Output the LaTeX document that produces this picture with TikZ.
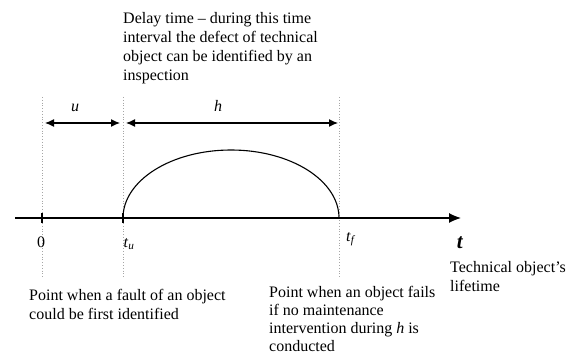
\documentclass[tikz,border=0pt]{standalone}
\usepackage{fontspec}
\setmainfont{Liberation Serif}
\usetikzlibrary{arrows.meta,positioning,calc}

\begin{document}
\begin{tikzpicture}[
  x=1pt, y=1pt,
  font=\fontsize{16}{19}\selectfont,
  guide/.style={draw=gray!70, dotted, line width=0.8pt},
  dimarr/.style={{Latex[length=9pt,width=8pt]}-{Latex[length=9pt,width=8pt]}, line width=1.2pt},
  axisarr/.style={-{Latex[length=12pt,width=10pt]}, line width=1.2pt},
  tickmark/.style={line width=2.2pt},
  note/.style={align=left, inner sep=0pt, anchor=north west}
]
\useasboundingbox (0,0) rectangle (580,356);
% points on the time axis
\coordinate (zero) at (42,138);
\coordinate (tu) at (123,138);
\coordinate (tf) at (339,138);
\coordinate (axL) at (15,138);
\coordinate (axR) at (461,138);
% dotted guides
\draw[guide] ([yshift=121pt]zero) -- ([yshift=-59pt]zero);
\draw[guide] ([yshift=121pt]tu) -- ([yshift=-59pt]tu);
\draw[guide] ([yshift=121pt]tf) -- ([yshift=-59pt]tf);
% axis
\draw[axisarr] (axL) -- (axR);
\draw[tickmark] ([yshift=-5pt]zero) -- ([yshift=5pt]zero);
\draw[tickmark] ([yshift=-5pt]tu) -- ([yshift=5pt]tu);
% intervals u and h
\draw[dimarr] ([shift={(3pt,95pt)}]zero) -- ([shift={(-3pt,95pt)}]tu);
\draw[dimarr] ([shift={(3pt,95pt)}]tu) -- ([shift={(-1pt,95pt)}]tf);
\node (u) at (75,248) {\textit{u}};
\node (h) at (218,250) {\textit{h}};
% delay curve
\draw[line width=1.1pt] (tu) arc[start angle=180, end angle=0, x radius=108pt, y radius=68pt];
% axis labels
\node (zerolab) at (41,114) {0};
\node (tulab) at (129,112) {\textit{t}\textsubscript{\textit{u}}};
\node (tflab) at (351,117) {\textit{t}\textsubscript{\textit{f}}};
\node (tlab) at (460,113) {\fontsize{21}{21}\selectfont\textbf{\textit{t}}};
% notes
\node[note] (delay) at (123,344) {Delay time -- during this time\\interval the defect of technical\\object can be identified by an\\inspection};
\node[note] (first) at (29,67) {Point when a fault of an object\\could be first identified};
\node[note, font=\fontsize{16}{18}\selectfont] (fails) at (269,70) {Point when an object fails\\if no maintenance\\intervention during \textit{h} is\\conducted};
\node[note] (life) at (450,95) {Technical object's\\lifetime};
\end{tikzpicture}
\end{document}
